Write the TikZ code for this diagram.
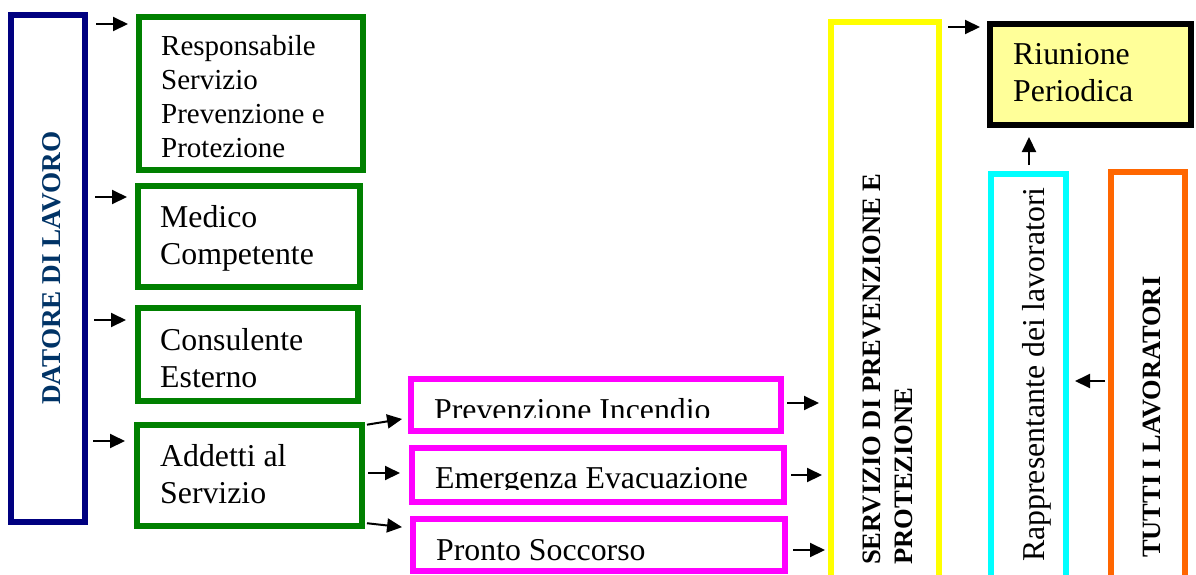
\documentclass[tikz,border=0pt]{standalone}
\usepackage{fontspec}
\setmainfont{Liberation Serif}
\usetikzlibrary{arrows.meta}

\definecolor{datoreblue}{HTML}{000080}
\definecolor{datoretext}{HTML}{003366}
\definecolor{boxgreen}{HTML}{008000}
\definecolor{boxmagenta}{HTML}{FF00FF}
\definecolor{boxyellow}{HTML}{FFFF00}
\definecolor{boxcyan}{HTML}{00FFFF}
\definecolor{boxorange}{HTML}{FF6600}
\definecolor{riunionefill}{HTML}{FFFF99}

\tikzset{
  orgbox/.style={rectangle, line width=6pt, inner sep=0pt},
  greenbox/.style={orgbox, draw=boxgreen},
  magentabox/.style={orgbox, draw=boxmagenta},
  linkarrow/.style={line width=2pt, -{Triangle[length=15pt,width=14pt]}},
  plaintext/.style={inner sep=0pt, align=left, font=\fontsize{31.8}{37}\selectfont},
  sidetext/.style={inner sep=0pt, rotate=90, anchor=base west},
}

\begin{document}
\begin{tikzpicture}[x=1pt,y=-1pt]
  \useasboundingbox (0,0) rectangle (1196,574);
  \clip (0,0) rectangle (1196,574);

  % Drawing box DATORE DI LAVORO
  \node [orgbox, draw=datoreblue, minimum width=74pt, minimum height=507pt] (datore) at (48,268.5) {};%
  \node [sidetext, text=datoretext, font=\bfseries\fontsize{27.2}{32}\selectfont] (datoretxt) at (60,405) {DATORE DI LAVORO};%

  % Drawing green boxes
  \node [greenbox, minimum width=224pt, minimum height=153pt] (rspp) at (251,93.5) {};%
  \node [plaintext, anchor=north west, font=\fontsize{29}{34}\selectfont] (rspptxt) at (161,35.5) {Responsabile\\Servizio\\Prevenzione e\\Protezione};%
  \node [greenbox, minimum width=222pt, minimum height=101pt] (medico) at (249,236.5) {};%
  \node [plaintext, anchor=north west] (medicotxt) at (160,205.5) {Medico\\Competente};%
  \node [greenbox, minimum width=220pt, minimum height=93pt] (consulente) at (248,354.5) {};%
  \node [plaintext, anchor=north west] (consulentetxt) at (160,328.5) {Consulente\\Esterno};%
  \node [greenbox, minimum width=225pt, minimum height=101.5pt] (addetti) at (249.5,475.25) {};%
  \node [plaintext, anchor=north west] (addettitxt) at (160,444.5) {Addetti al\\Servizio};%

  % Drawing magenta boxes
  \node [magentabox, minimum width=370pt, minimum height=51.5pt] (incendio) at (596,404.75) {};%
  \begin{scope}
    \clip (400,370) rectangle (790,417.5);
    \node [plaintext, anchor=base west] (incendiotxt) at (434,420) {Prevenzione Incendio};%
  \end{scope}
  \node [magentabox, minimum width=372pt, minimum height=54pt] (evacuazione) at (598,475) {};%
  \begin{scope}
    \clip (400,440) rectangle (790,489.5);
    \node [plaintext, anchor=base west] (evacuazionetxt) at (435,488) {Emergenza Evacuazione};%
  \end{scope}
  \node [magentabox, minimum width=372pt, minimum height=52pt] (soccorso) at (599,545) {};%
  \node [plaintext, anchor=base west] (soccorsotxt) at (436,560) {Pronto Soccorso};%

  % Drawing box SERVIZIO DI PREVENZIONE E PROTEZIONE
  \node [orgbox, draw=boxyellow, minimum width=108pt, minimum height=578pt] (spp) at (885,311) {};%
  \node [inner sep=0pt, rotate=90, anchor=north west, align=left, font=\bfseries\fontsize{26.6}{32}\selectfont] (spptxt) at (862.5,565) {SERVIZIO DI PREVENZIONE E\\PROTEZIONE};%

  % Drawing box Riunione Periodica
  \node [orgbox, draw=black, fill=riunionefill, minimum width=201pt, minimum height=101pt] (riunione) at (1090.5,74.5) {};%
  \node [plaintext, anchor=north west] (riunionetxt) at (1013,43.5) {Riunione\\Periodica};%

  % Drawing box Rappresentante dei lavoratori
  \node [orgbox, draw=boxcyan, minimum width=75pt, minimum height=426pt] (rls) at (1028.5,387) {};%
  \node [sidetext, font=\fontsize{31.8}{37}\selectfont] (rlstxt) at (1044,562) {Rappresentante dei lavoratori};%

  % Drawing box TUTTI I LAVORATORI
  \node [orgbox, draw=boxorange, minimum width=74pt, minimum height=428pt] (tutti) at (1148,386) {};%
  \node [sidetext, font=\bfseries\fontsize{26.4}{32}\selectfont] (tuttitxt) at (1160,558) {TUTTI I LAVORATORI};%

  % Drawing arrows from DATORE DI LAVORO
  \draw [linkarrow, shorten <=8pt, shorten >=8pt] (datore.east |- 0,24) -- (rspp.west |- 0,24);%
  \draw [linkarrow, shorten <=7pt, shorten >=8pt] (datore.east |- 0,197) -- (medico.west |- 0,197);%
  \draw [linkarrow, shorten <=6pt, shorten >=9pt] (datore.east |- 0,320) -- (consulente.west |- 0,320);%
  \draw [linkarrow, shorten <=5pt, shorten >=9pt] (datore.east |- 0,441) -- (addetti.west |- 0,441);%

  % Drawing arrows from Addetti al Servizio
  \draw [linkarrow, shorten <=2pt, shorten >=6pt] (addetti.east |- 0,425) -- (incendio.west |- 0,418);%
  \draw [linkarrow, shorten <=3pt, shorten >=9pt] (addetti.east |- 0,473) -- (evacuazione.west |- 0,473);%
  \draw [linkarrow, shorten <=2pt, shorten >=8pt] (addetti.east |- 0,523) -- (soccorso.west |- 0,528);%

  % Drawing arrows to SERVIZIO DI PREVENZIONE E PROTEZIONE
  \draw [linkarrow, shorten <=3pt, shorten >=9pt] (incendio.east |- 0,403) -- (spp.west |- 0,403);%
  \draw [linkarrow, shorten <=4pt, shorten >=6pt] (evacuazione.east |- 0,475) -- (spp.west |- 0,475);%
  \draw [linkarrow, shorten <=5pt, shorten >=3pt] (soccorso.east |- 0,550) -- (spp.west |- 0,550);%

  % Drawing arrows to Riunione Periodica
  \draw [linkarrow, shorten <=6pt, shorten >=7pt] (spp.east |- 0,27) -- (riunione.west |- 0,27);%
  \draw [linkarrow, shorten <=6pt, shorten >=9pt] (rls.north -| 1029,0) -- (riunione.south -| 1029,0);%

  % Drawing arrow from TUTTI I LAVORATORI
  \draw [linkarrow, shorten <=3pt, shorten >=6pt] (tutti.west |- 0,381) -- (rls.east |- 0,381);%
\end{tikzpicture}
\end{document}
